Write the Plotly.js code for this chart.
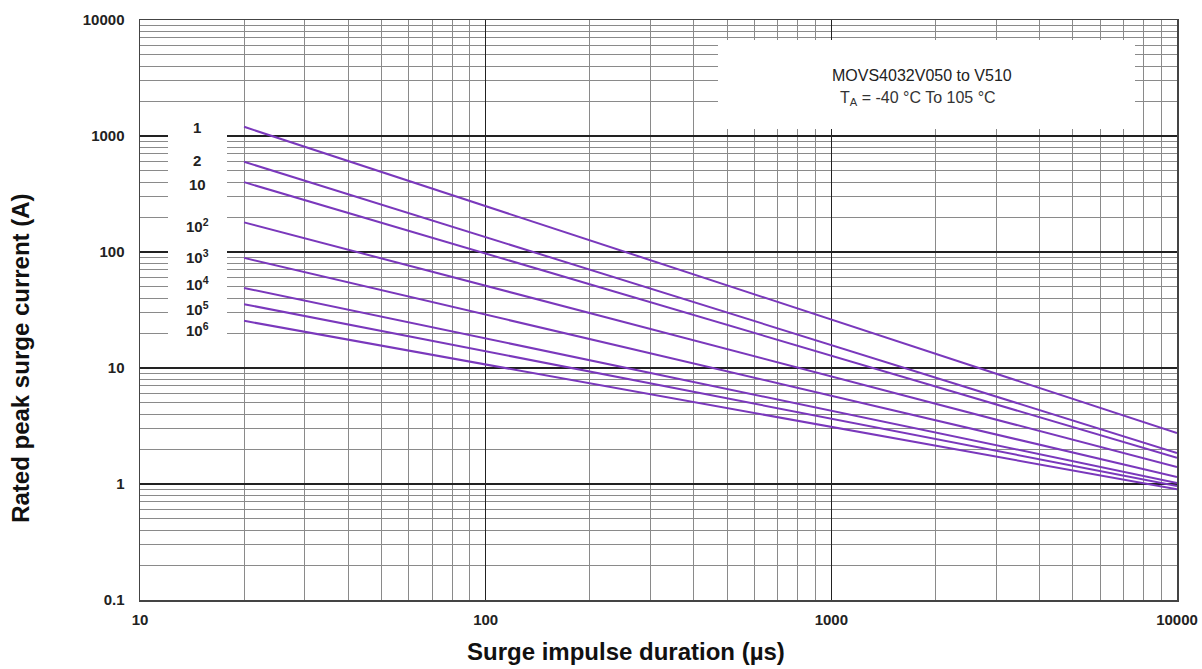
<!DOCTYPE html>
<html>
<head>
<meta charset="utf-8">
<script src="https://cdn.plot.ly/plotly-3.0.1.min.js"></script>
<style>html,body{margin:0;padding:0;background:#fff;}#chart{width:1202px;height:669px;}</style>
</head>
<body>
<div id="chart"></div>
<script>
// Surge impulse duration (µs) at line ends
const durations = [20, 10000];
// Rated peak surge current (A) per number of surges
const seriesNames = ["1", "2", "10", "10<sup>2</sup>", "10<sup>3</sup>", "10<sup>4</sup>", "10<sup>5</sup>", "10<sup>6</sup>"];
const s1 = [1200, 2.75];
const s2 = [600, 1.85];
const s10 = [400, 1.68];
const s1e2 = [180, 1.40];
const s1e3 = [89, 1.15];
const s1e4 = [49, 1.02];
const s1e5 = [35.5, 0.96];
const s1e6 = [25.5, 0.9];
const seriesValues = [s1, s2, s10, s1e2, s1e3, s1e4, s1e5, s1e6];
const xTicks = [10, 100, 1000, 10000];
const xTickText = ["10", "100", "1000", "10000"];
const yTicks = [0.1, 1, 10, 100, 1000, 10000];
const yTickText = ["0.1", "1", "10", "100", "1000", "10000"];

const purple = "#7A38BC";
const traces = seriesValues.map((v, i) => ({
  x: durations, y: v, type: "scatter", mode: "lines",
  name: seriesNames[i], line: {color: purple, width: 2}, hoverinfo: "skip"
}));

// label positions (paper coords)
const labelY = [0.815, 0.758, 0.717, 0.646, 0.593, 0.545, 0.502, 0.466];
const annotations = seriesNames.map((n, i) => ({
  xref: "paper", yref: "paper", x: 0.055, y: labelY[i], xanchor: "center", yanchor: "middle",
  text: "<b>" + n + "</b>",
  showarrow: false, font: {family: "Liberation Sans, Arial", size: 15, color: "#222"}
}));
annotations.push({
  xref: "paper", yref: "paper", x: 0.754, y: 0.905, xanchor: "center", yanchor: "middle",
  text: "MOVS4032V050 to V510",
  showarrow: false, font: {family: "Liberation Sans, Arial", size: 16, color: "#222"}
});
annotations.push({
  xref: "paper", yref: "paper", x: 0.75, y: 0.864, xanchor: "center", yanchor: "middle",
  text: "T<sub>A</sub> = -40 °C To 105 °C",
  showarrow: false, font: {family: "Liberation Sans, Arial", size: 16, color: "#333"}
});
annotations.push({
  xref: "paper", yref: "paper", x: 0.469, y: -0.088, xanchor: "center", yanchor: "middle",
  text: "<b>Surge impulse duration (µs)</b>", showarrow: false,
  font: {family: "Liberation Sans, Arial", size: 24, color: "#111"}
});
annotations.push({
  xref: "paper", yref: "paper", x: -0.116, y: 0.417, xanchor: "center", yanchor: "middle", textangle: -90,
  text: "<b>Rated peak surge current (A)</b>", showarrow: false,
  font: {family: "Liberation Sans, Arial", size: 24, color: "#111"}
});

const shapes = [
  {type: "rect", xref: "paper", yref: "paper", x0: (168-140)/1037, x1: (227-140)/1037,
   y0: (600-345)/580, y1: (600-112)/580, fillcolor: "#fff", line: {width: 0}, layer: "above"},
  {type: "rect", xref: "paper", yref: "paper", x0: (718-140)/1037, x1: (1135-140)/1037,
   y0: (600-129)/580, y1: (600-40)/580, fillcolor: "#fff", line: {width: 0}, layer: "above"}
];

const tickFont = {family: "Liberation Sans, Arial", size: 15, color: "#222", weight: "bold"};
const layout = {
  width: 1202, height: 669,
  margin: {l: 140, r: 25, t: 20, b: 69},
  paper_bgcolor: "#fff", plot_bgcolor: "#fff",
  showlegend: false,
  xaxis: {
    type: "log", range: [1, 4], tickvals: xTicks, ticktext: xTickText,
    tickfont: tickFont, ticks: "", showgrid: true, gridcolor: "#222", gridwidth: 1.3,
    minor: {dtick: "D1", showgrid: true, gridcolor: "#8a8a8a", gridwidth: 1, ticks: ""},
    showline: true, linecolor: "#444", linewidth: 1.5, mirror: true, zeroline: false,
    ticklabelstandoff: 5
  },
  yaxis: {
    type: "log", range: [-1, 4], tickvals: yTicks, ticktext: yTickText,
    tickfont: tickFont, ticks: "", showgrid: true, gridcolor: "#222", gridwidth: 1.3,
    minor: {dtick: "D1", showgrid: true, gridcolor: "#8a8a8a", gridwidth: 1, ticks: ""},
    showline: true, linecolor: "#444", linewidth: 1.5, mirror: true, zeroline: false,
    ticklabelstandoff: 11
  },
  annotations: annotations,
  shapes: shapes
};
Plotly.newPlot("chart", traces, layout, {staticPlot: true, displayModeBar: false});
</script>
</body>
</html>
